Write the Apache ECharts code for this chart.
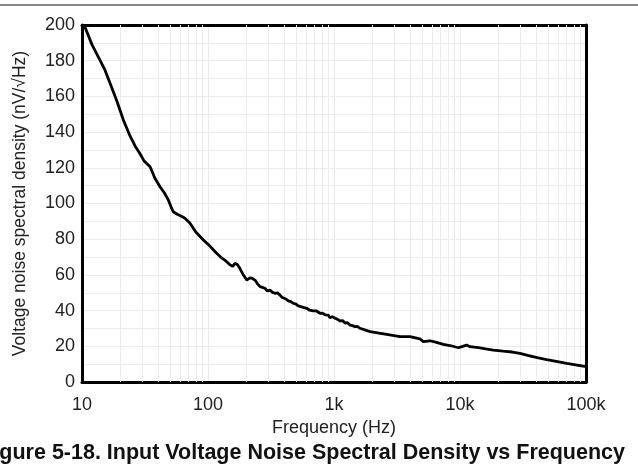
<!DOCTYPE html>
<html>
<head>
<meta charset="utf-8">
<script src="https://cdn.jsdelivr.net/npm/echarts@6/dist/echarts.min.js"></script>
<style>html,body{margin:0;padding:0;background:#fff;}#chart{width:638px;height:468px;}</style>
</head>
<body>
<div id="chart"></div>
<script>
const freq = [10.4, 12, 13.5, 15.2, 17, 19, 21.3, 24, 26.5, 28.8, 31, 34.7, 38, 41.6, 45, 48.4, 51, 53, 57, 61, 65.6, 72, 80, 91.9, 104, 117, 126,
  136, 150, 157, 164, 171, 179, 191, 203, 209, 215, 225, 236, 247, 259, 270, 283, 296, 310, 325, 340, 356, 373, 385, 396, 415, 434, 455, 475, 500, 520, 537, 570, 607, 640, 685, 720, 774, 810, 850, 901, 929, 970, 1018, 1060, 1117, 1170, 1230, 1280, 1340, 1400, 1470, 1540, 1607, 1930, 2620, 3340, 4010, 4820, 5113, 5779, 6500, 7374, 8500, 9706, 10500, 11300, 12000, 14000, 16000, 18370, 22000, 26000, 29900, 35000, 41000, 48700, 58000, 70300, 85000, 100000];
const noise = [200, 189, 182, 174.8, 166, 157, 146.8, 138, 132, 128, 124, 120.6, 114, 109.4, 106, 102, 98, 95.4, 94, 93, 91.7, 88.9, 84, 79.6, 76, 72.1, 70,
  68.3, 65.5, 64.8, 66.5, 65.8, 63.7, 59.9, 57.1, 58.2, 58.4, 58.0, 57.1, 55.0, 53.4, 53.0, 52.5, 51.0, 51.5, 50.2, 49.7, 49.9, 48.7, 47.5, 46.9, 46.5, 45.4, 45.0, 44.1, 43.6, 42.6, 42.2, 41.8, 41.3, 40.2, 39.8, 39.9, 38.5, 38.6, 37.6, 37.5, 36.0, 36.6, 35.7, 35.2, 34.2, 34.4, 33.0, 33.2, 31.9, 31.6, 31.0, 31.1, 30.1, 28.2, 26.7, 25.4, 25.4, 24.1, 22.6, 23.1, 22.2, 21.1, 20.3, 19.2, 20.0, 20.7, 19.8, 19.2, 18.5, 17.9, 17.3, 16.8, 16.0, 14.8, 13.6, 12.6, 11.6, 10.5, 9.5, 8.6];
const xTickLabels = {10: '10', 100: '100', 1000: '1k', 10000: '10k', 100000: '100k'};
const minorX = [20,30,40,50,60,70,80,90,200,300,400,500,600,700,800,900,2000,3000,4000,5000,6000,7000,8000,9000,20000,30000,40000,50000,60000,70000,80000,90000];
const captionText = 'Figure 5-18. Input Voltage Noise Spectral Density vs Frequency';
const xTitle = 'Frequency (Hz)';
const yTitle = 'Voltage noise spectral density (nV/\u221AHz)';

const chart = echarts.init(document.getElementById('chart'), null, {renderer: 'canvas'});
const font = 'Liberation Sans, Arial, sans-serif';
const gridColor = '#ececec';
const txt = '#222';
chart.setOption({
  animation: false,
  backgroundColor: '#fff',
  grid: {left: 82, right: 52, top: 25, bottom: 86},
  xAxis: [{
    type: 'log', logBase: 10, min: 10, max: 100000,
    name: xTitle, nameLocation: 'middle', nameGap: 28,
    nameTextStyle: {fontFamily: font, fontSize: 18, color: txt},
    axisLine: {show: true, lineStyle: {color: '#000', width: 3}},
    axisTick: {show: false},
    axisLabel: {fontFamily: font, fontSize: 18, color: txt, margin: 14,
      formatter: v => xTickLabels[Math.round(v)] || ''},
    splitLine: {show: true, lineStyle: {color: gridColor, width: 1}}
  }, {
    type: 'value', min: 0, max: 1, position: 'top',
    axisLine: {show: true, onZero: false, lineStyle: {color: '#000', width: 3}},
    axisTick: {show: false}, axisLabel: {show: false}, splitLine: {show: false}
  }],
  yAxis: [{
    type: 'value', min: 0, max: 200, interval: 10,
    name: yTitle, nameLocation: 'middle', nameGap: 53,
    nameTextStyle: {fontFamily: font, fontSize: 17.5, color: txt},
    axisLine: {show: true, lineStyle: {color: '#000', width: 3}},
    axisTick: {show: false},
    axisLabel: {fontFamily: font, fontSize: 18, color: txt, margin: 7,
      formatter: v => (v % 20 === 0 ? String(v) : '')},
    splitLine: {show: true, lineStyle: {color: gridColor, width: 1}}
  }, {
    type: 'value', min: 0, max: 200, interval: 10, position: 'right',
    axisLine: {show: true, onZero: false, lineStyle: {color: '#000', width: 3}},
    axisTick: {show: false}, axisLabel: {show: false}, splitLine: {show: false}
  }],
  graphic: [
    {type: 'line', shape: {x1: 0, y1: 5, x2: 638, y2: 5}, style: {stroke: '#888', lineWidth: 2}},
    {type: 'text', right: 13, top: 442, style: {text: captionText, font: 'bold 21.5px ' + font, fill: '#111'}}
  ],
  series: [{
    type: 'line', silent: true, symbol: 'none', z: 1,
    data: [],
    markLine: {
      silent: true, symbol: 'none', label: {show: false},
      lineStyle: {color: gridColor, width: 1, type: 'solid'},
      data: minorX.map(v => ({xAxis: v}))
    }
  }, {
    type: 'line', symbol: 'none', smooth: false, z: 5,
    lineStyle: {color: '#000', width: 2.8},
    data: freq.map((f, i) => [f, noise[i]])
  }]
});
</script>
</body>
</html>
